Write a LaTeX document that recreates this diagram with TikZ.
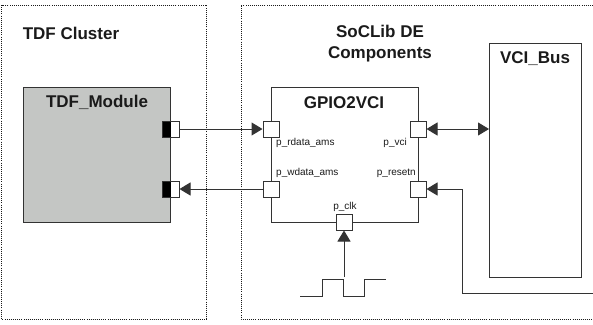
\documentclass[tikz,border=0pt]{standalone}
\usepackage{fontspec}
\setmainfont{Liberation Sans}
\usetikzlibrary{arrows.meta}
\definecolor{ink}{HTML}{333333}
\definecolor{txt}{HTML}{1A1A1A}
\definecolor{modfill}{HTML}{C4C6C4}

\begin{document}
\begin{tikzpicture}[x=1pt,y=-1pt,
  cluster/.style={draw=txt, line width=1pt, dash pattern=on 1pt off 1.1pt},
  block/.style={draw=ink, line width=1pt, rectangle, inner sep=0pt, anchor=north west},
  title/.style={font=\fontsize{17}{21}\selectfont\bfseries, text=txt, align=center, inner sep=0pt},
  portlbl/.style={font=\fontsize{10}{12}\selectfont, text=txt, inner sep=0pt},
  port/.style={draw=ink, fill=white, line width=1pt, minimum width=16pt, minimum height=16pt, inner sep=0pt},
  tdfport/.style={port, minimum width=17pt,
    path picture={\fill[black] (path picture bounding box.south west) rectangle (path picture bounding box.north);}},
  wire/.style={draw=ink, line width=1pt},
  tip/.style={-{Triangle[length=11pt,width=13pt]}},
  twotip/.style={{Triangle[length=11pt,width=13pt]}-{Triangle[length=11pt,width=13pt]}}
]
\useasboundingbox (0,0) rectangle (593,324);

% cluster frames
\draw[cluster] (1.5,5) rectangle (206.5,319);
\draw[cluster] (593,5) -- (241,5) -- (241,319) -- (593,319);
\node[title] (tdfcluster) at (71,33) {TDF Cluster};
\node[title] (soclib) at (380,44) {SoCLib DE\\Components};

% blocks
\node[block, fill=modfill, minimum width=147pt, minimum height=135pt] (tdf) at (23,87) {};
\node[title] (tdftitle) at (97,102) {TDF\_Module};
\node[block, minimum width=147pt, minimum height=135pt] (gpio) at (271,87) {};
\node[title] (gpiotitle) at (344,103) {GPIO2VCI};
\node[block, minimum width=92pt, minimum height=234pt] (vci) at (489,43) {};
\node[title] (vcititle) at (535,59) {VCI\_Bus};

% ports
\node[tdfport] (tdfr) at (170.5,129) {};
\node[tdfport] (tdfw) at (170.5,189) {};
\node[port] (prd) at (271,129) {};
\node[port] (pwd) at (271,189) {};
\node[port] (pvci) at (418,129) {};
\node[port] (prst) at (418,189) {};
\node[port] (pclk) at (344,222) {};

% port labels
\node[portlbl, anchor=west] (lrd) at (276,143) {p\_rdata\_ams};
\node[portlbl, anchor=east] (lvci) at (407,143) {p\_vci};
\node[portlbl, anchor=west] (lwd) at (276,173) {p\_wdata\_ams};
\node[portlbl, anchor=east] (lrst) at (416,173) {p\_resetn};
\node[portlbl] (lclk) at (345,207) {p\_clk};

% connections
\draw[wire, tip] (tdfr.east) -- (prd.west);
\draw[wire, tip] (pwd.west) -- (tdfw.east);
\draw[wire, twotip] (pvci.east) -- (vci.west |- pvci.east);
\coordinate (rstsrc) at (593,293);
\draw[wire, tip] (rstsrc) -- ++(-131,0) |- (prst.east);

% clock waveform driving p_clk
\draw[wire] (300,296) -- (322,296) -- (322,279) -- (343,279) -- (343,296)
  -- (364,296) -- (364,279) -- (386,279);
\coordinate (clkin) at (344,277);
\draw[wire, tip] (clkin) -- (pclk.south);
\end{tikzpicture}
\end{document}
